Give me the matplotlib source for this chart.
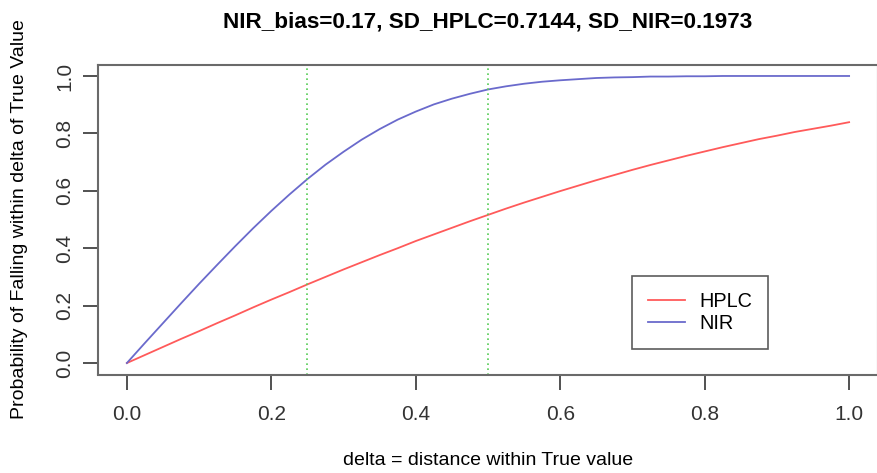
import matplotlib
matplotlib.use("Agg")
import matplotlib.pyplot as plt

plt.rcParams["font.family"] = ["Liberation Sans", "DejaVu Sans"]

# values, delta step 0.025
delta = [i * 0.025 for i in range(41)]
hplc = [0.0, 0.028, 0.056, 0.084, 0.111, 0.139, 0.166, 0.194, 0.221, 0.247,
        0.274, 0.300, 0.326, 0.351, 0.376, 0.400, 0.425, 0.448, 0.471, 0.494,
        0.516, 0.538, 0.559, 0.579, 0.599, 0.618, 0.637, 0.655, 0.673, 0.690,
        0.706, 0.722, 0.737, 0.752, 0.766, 0.780, 0.792, 0.805, 0.816, 0.827,
        0.839]
nir = [0.0, 0.070, 0.139, 0.208, 0.276, 0.342, 0.407, 0.470, 0.530, 0.587,
       0.641, 0.691, 0.736, 0.778, 0.815, 0.848, 0.876, 0.901, 0.921, 0.938,
       0.953, 0.964, 0.973, 0.980, 0.985, 0.989, 0.993, 0.995, 0.996, 0.998,
       0.998, 0.999, 0.999, 1.0, 1.0, 1.0, 1.0, 1.0, 1.0, 1.0, 1.0]
vlines = [0.25, 0.5]
ticks = [0.0, 0.2, 0.4, 0.6, 0.8, 1.0]
title = "NIR_bias=0.17, SD_HPLC=0.7144, SD_NIR=0.1973"

fig = plt.figure(figsize=(8.78, 4.73), dpi=100)
ax = fig.add_axes([98 / 878, 1 - 374.5 / 473, 780 / 878, 310 / 473])

ax.plot(delta, hplc, color="#ff5a5a", lw=1.3, label="HPLC")
ax.plot(delta, nir, color="#6a6acc", lw=1.3, label="NIR")
for v in vlines:
    ax.axvline(v, color="#55cc55", lw=1.2, ls=(0, (1, 2)))

ax.set_xlim(-0.04, 1.04)
ax.set_ylim(-0.04, 1.04)
ax.set_xticks(ticks)
ax.set_yticks(ticks)
ax.set_xticklabels([f"{t:.1f}" for t in ticks])
ax.set_yticklabels([f"{t:.1f}" for t in ticks], rotation=90, va="center")
ax.tick_params(direction="out", length=11, width=1.2, colors="#333333",
               labelsize=15, pad=6)
ax.tick_params(axis="x", pad=11)
for s in ax.spines.values():
    s.set_color("#6a6a6a")
    s.set_linewidth(1.5)

ax.set_title(title, fontsize=16.2, fontweight="bold", pad=27)
ax.set_xlabel("delta = distance within True value", fontsize=14, labelpad=20)
ax.set_ylabel("Probability of Falling within delta of True Value", fontsize=14,
              labelpad=20)

leg = ax.legend(loc="lower left", bbox_to_anchor=((632 - 98) / 780, (374.5 - 349) / 310),
                fontsize=14.3, frameon=True, fancybox=False, handlelength=1.86,
                borderpad=0.8, labelspacing=0.15, handletextpad=0.75, borderaxespad=0)
leg.get_frame().set_edgecolor("#333333")
leg.get_frame().set_linewidth(1.2)

fig.savefig("out.png", dpi=100)
